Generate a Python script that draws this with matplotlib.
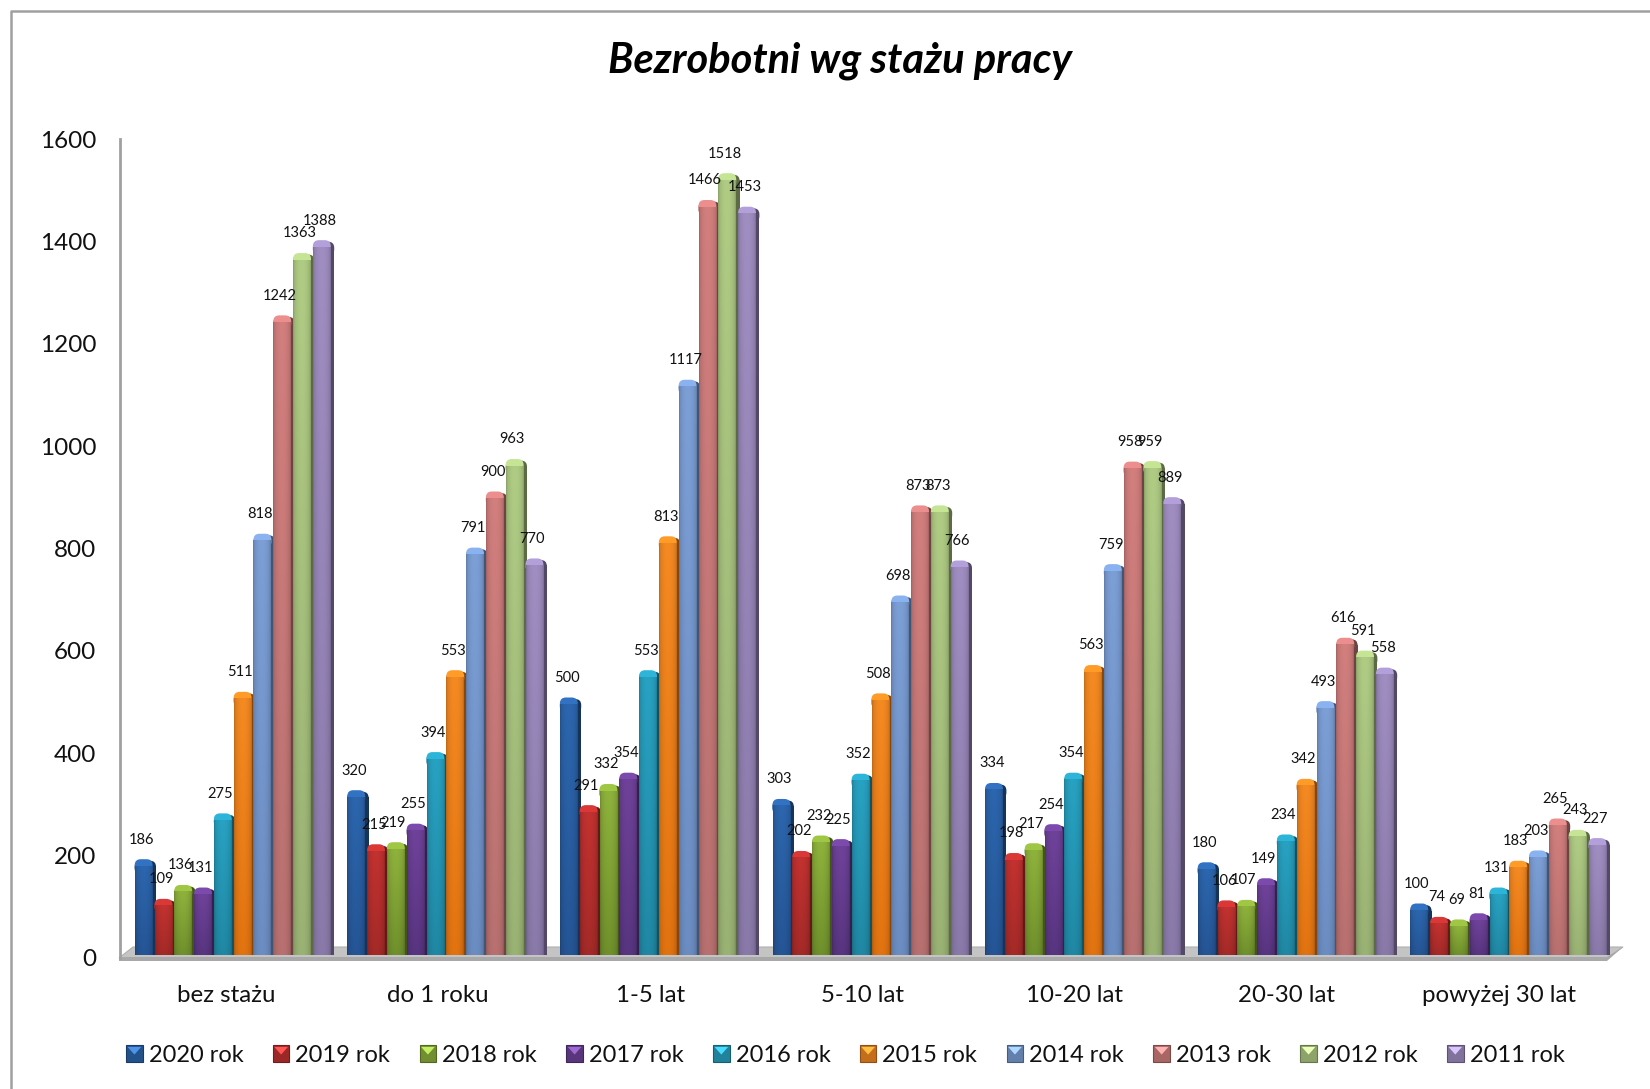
import numpy as np
import matplotlib
matplotlib.use("Agg")
import matplotlib.pyplot as plt
from matplotlib.colors import to_rgb
from matplotlib.legend_handler import HandlerBase
from matplotlib.patches import FancyBboxPatch, Patch, Polygon, Rectangle
from matplotlib.lines import Line2D

categories = ["bez stażu", "do 1 roku", "1-5 lat", "5-10 lat", "10-20 lat", "20-30 lat", "powyżej 30 lat"]
y2020 = [186, 320, 500, 303, 334, 180, 100]
y2019 = [109, 215, 291, 202, 198, 106, 74]
y2018 = [136, 219, 332, 232, 217, 107, 69]
y2017 = [131, 255, 354, 225, 254, 149, 81]
y2016 = [275, 394, 553, 352, 354, 234, 131]
y2015 = [511, 553, 813, 508, 563, 342, 183]
y2014 = [818, 791, 1117, 698, 759, 493, 203]
y2013 = [1242, 900, 1466, 873, 958, 616, 265]
y2012 = [1363, 963, 1518, 873, 959, 591, 243]
y2011 = [1388, 770, 1453, 766, 889, 558, 227]

series = [y2020, y2019, y2018, y2017, y2016, y2015, y2014, y2013, y2012, y2011]
names = ["2020 rok", "2019 rok", "2018 rok", "2017 rok", "2016 rok",
         "2015 rok", "2014 rok", "2013 rok", "2012 rok", "2011 rok"]
top_colors = ["#2c66ae", "#c23230", "#8fb23c", "#6f429a", "#28a2c2",
              "#f58a22", "#7c9fd6", "#d27f7e", "#b0cc84", "#a08ec2"]
bottom_colors = ["#255595", "#a42a28", "#70902c", "#583580", "#2088a4",
                 "#e27410", "#6c8dc2", "#b87170", "#9ab274", "#8a7aaa"]

W, H = 1650, 1089
plt.rcParams["font.family"] = ["Lato", "DejaVu Sans"]


def fx(px):
    return px / W


def fy(py):
    return 1 - py / H


def shade(color, k):
    return tuple(np.clip(np.array(to_rgb(color)) * k, 0, 1))


def bar_image(top, bottom):
    # vertical colour ramp times a sideways bevel
    v = np.linspace(0, 1, 40)[:, None]
    u = np.linspace(0, 1, 24)
    bevel = 0.78 + 0.22 * np.sin(np.pi * u) ** 0.45
    c0, c1 = np.array(to_rgb(top)), np.array(to_rgb(bottom))
    img = np.zeros((40, 24, 3))
    for k in range(3):
        img[:, :, k] = (c0[k] * (1 - v) + c1[k] * v) * bevel
    return np.clip(img, 0, 1)


class CubeHandler(HandlerBase):
    def create_artists(self, legend, orig, xd, yd, width, height, fontsize, trans):
        s = 16.5 * 0.72
        x0, y0 = -xd + (width - s) / 2, -yd - (s - height) / 2
        col = orig.get_facecolor()
        base = Rectangle((x0, y0), s, s, fc=shade(col, 0.8), ec=shade(col, 0.58), lw=0.8, transform=trans)
        tri = Polygon([(x0 + 1, y0 + s - 1), (x0 + s - 1, y0 + s - 1), (x0 + s / 2, y0 + s * 0.45)],
                      fc=tuple(np.clip(np.array(col[:3]) * 1.2 + 0.1, 0, 1)), ec="none", transform=trans)
        return [base, tri]


fig = plt.figure(figsize=(16.5, 10.89), dpi=100)

# chart border, only left and top are inside the picture
fig.add_artist(Line2D([fx(11), fx(11), fx(1650)], [fy(1089), fy(11), fy(11)], color="#a0a0a0", lw=1.8))

# floor of the 3d plot
fig.add_artist(Polygon([(fx(119), fy(958)), (fx(133), fy(947)), (fx(1623), fy(947)), (fx(1607), fy(958))],
                       closed=True, fc="#c4c4c4", ec="#b0b0b0", lw=0.8, transform=fig.transFigure))
fig.add_artist(Polygon([(fx(119), fy(957)), (fx(1607), fy(957)), (fx(1623), fy(947)), (fx(1607), fy(961)), (fx(119), fy(961))],
                       closed=True, fc="#a8a8a8", ec="none", transform=fig.transFigure))

# value axis sits a bit apart from the bars because of the perspective
ax_val = fig.add_axes([fx(120), fy(958), fx(1490), (958 - 139) / H])
ax_val.set_ylim(0, 1600)
ax_val.set_yticks(np.arange(0, 1601, 200))
ax_val.set_xticks([])
ax_val.tick_params(axis="y", length=0, pad=17, labelsize=17.5, labelcolor="#111111")
for side in ["top", "right", "bottom"]:
    ax_val.spines[side].set_visible(False)
ax_val.spines["left"].set_color("#a0a0a0")
ax_val.spines["left"].set_linewidth(2)
ax_val.patch.set_alpha(0)
ax_val.set_zorder(2)

ax = fig.add_axes([fx(120), fy(955), fx(1490), (955 - 131) / H])
ax.patch.set_alpha(0)
ax.axis("off")
ax.set_zorder(3)

group_px = 212.6
px_per_val = (955 - 131) / 1600
pitch = 19.8 / group_px
face = 17.9 / group_px
side_w = 3.4 / group_px
first = (134.7 - 120) / group_px
cap_h = 14 / px_per_val
round_x = 6 / group_px
aspect = group_px / px_per_val

for s, (vals, top, bottom, name) in enumerate(zip(series, top_colors, bottom_colors, names)):
    img = bar_image(top, bottom)
    for i, v in enumerate(vals):
        x0 = first + i + s * pitch
        x1 = x0 + face
        z = 2 + s * 0.1
        body = v - 7 / px_per_val
        # dark side face, then lighter rounded top, then the shaded front
        ax.bar(x1 + side_w / 2, body, width=side_w, color=shade(bottom, 0.6), zorder=z, linewidth=0)
        ax.add_patch(FancyBboxPatch((x0, v - cap_h - 3), face + side_w, cap_h,
                                    boxstyle=f"round,pad=0,rounding_size={round_x}", mutation_aspect=aspect,
                                    fc=shade(bottom, 0.6), ec="none", zorder=z + 0.001))
        ax.add_patch(FancyBboxPatch((x0, v - cap_h), face, cap_h,
                                    boxstyle=f"round,pad=0,rounding_size={round_x}", mutation_aspect=aspect,
                                    fc=shade(top, 1.12), ec="none", zorder=z + 0.002))
        ax.imshow(img, extent=[x0, x1, 0, body], aspect="auto", zorder=z + 0.01, interpolation="bilinear")
        ax.text(x0 + face / 2 - 0.011, v + 38, str(v), ha="center", va="center",
                fontsize=10.5, color="#111111", zorder=10)

ax.set_xlim(0, 1490 / group_px)
ax.set_ylim(0, 1600)

for i, label in enumerate(categories):
    fig.text(fx(226 + i * 212.2), fy(995), label, ha="center", va="center", fontsize=17.3, color="#111111")

fig.text(fx(840), fy(60.5), "Bezrobotni wg stażu pracy", ha="center", va="center",
         fontsize=30, fontweight="bold", fontstyle="italic", color="black")

handles = [Patch(facecolor=c, label=n) for c, n in zip(top_colors, names)]
fig.legend(handles=handles, ncols=10, loc="center", bbox_to_anchor=(fx(845), fy(1055.5)), frameon=False,
           fontsize=17, handler_map={Patch: CubeHandler()}, handlelength=0.75, handletextpad=0.23,
           columnspacing=1.22, labelcolor="#111111")

fig.savefig("out.png", dpi=100, facecolor="white")
